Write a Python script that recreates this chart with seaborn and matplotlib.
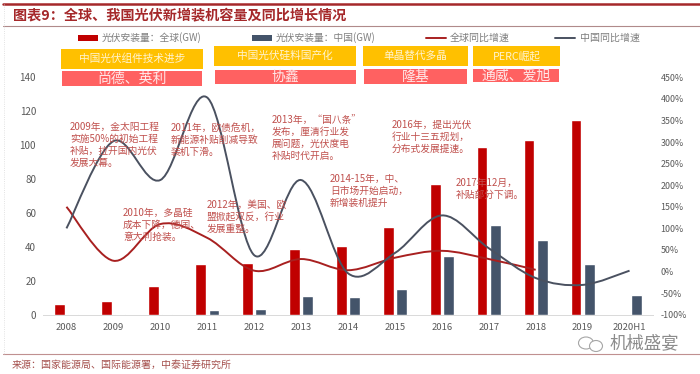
import matplotlib
matplotlib.use('Agg')
import matplotlib.pyplot as plt
from matplotlib.lines import Line2D
from matplotlib.patches import PathPatch, Rectangle, Ellipse
from matplotlib.path import Path
import pandas as pd
import seaborn as sns

years = ['2008', '2009', '2010', '2011', '2012', '2013', '2014', '2015',
         '2016', '2017', '2018', '2019', '2020H1']
# 装机量 (GW)
install_world = [6.5, 8, 17, 30, 30.5, 39, 40.5, 52, 77, 99, 103, 115, None]
install_china = [0.4, 0.5, 0.5, 2.5, 3.5, 10.9, 10.5, 15.2, 34.5, 53, 44.3, 30.1, 11.5]
# 同比增速 (%)
growth_world = [150, 25, 110, 78, 2, 29, 3, 32, 48, 29, 4]
growth_china = [100, 302, 212, 403, 38, 212, -4, 43, 130, 54, -15, -31, 2]

WIDTH, HEIGHT = 700, 374
RED = '#C00000'
NAVY = '#44546A'
LINE_RED = '#A82020'
LINE_NAVY = '#4A5160'
TEXT_RED = '#C0504D'
GRAY = '#7F7F7F'
# 全角标点
COMMA = '\uff0c'
COLON = '\uff1a'

sns.set_style('white')
plt.rcParams['font.family'] = ['Noto Sans CJK SC', 'DejaVu Sans']


# 像素坐标 -> figure 坐标
def fx(x):
    return x / WIDTH


def fy(y):
    return 1 - y / HEIGHT


def put_text(x, y, s, size=6, color=TEXT_RED, **kw):
    kw.setdefault('va', 'center')
    s = s.replace(',', COMMA).replace(':', COLON)
    fig.text(fx(x), fy(y), s, fontsize=size, color=color, **kw)


def put_rect(x0, y0, x1, y1, color, zorder=1):
    fig.add_artist(Rectangle((fx(x0), fy(y1)), (x1 - x0) / WIDTH, (y1 - y0) / HEIGHT,
                             transform=fig.transFigure, facecolor=color,
                             edgecolor='none', zorder=zorder))


def put_line(x0, y0, x1, y1, color, lw=1.0, **kw):
    fig.add_artist(Line2D([fx(x0), fx(x1)], [fy(y0), fy(y1)], color=color, lw=lw, **kw))


# Excel 的平滑线: 用贝塞尔曲线穿过每个数据点
def smooth_path(values):
    pts = list(enumerate(values))
    verts = [pts[0]]
    codes = [Path.MOVETO]
    for i in range(len(pts) - 1):
        p0 = pts[max(i - 1, 0)]
        p1 = pts[i]
        p2 = pts[i + 1]
        p3 = pts[min(i + 2, len(pts) - 1)]
        c1 = (p1[0] + (p2[0] - p0[0]) / 6, p1[1] + (p2[1] - p0[1]) / 6)
        c2 = (p2[0] - (p3[0] - p1[0]) / 6, p2[1] - (p3[1] - p1[1]) / 6)
        verts += [c1, c2, p2]
        codes += [Path.CURVE4] * 3
    return Path(verts, codes)


df = pd.DataFrame({'year': years, '全球': install_world, '中国': install_china})
df_long = df.melt(id_vars='year', var_name='地区', value_name='GW')

fig = plt.figure(figsize=(7, 3.74), dpi=100)
ax = fig.add_axes([fx(43), fy(314.7), (653 - 43) / WIDTH, (314.7 - 77.3) / HEIGHT])

sns.barplot(data=df_long, x='year', y='GW', hue='地区', order=years,
            palette={'全球': RED, '中国': NAVY}, width=0.57, gap=0.2,
            saturation=1, legend=False, ax=ax)
ax.set_xlim(-0.5, 12.5)
ax.set_ylim(0, 140)
ax.set_xlabel('')
ax.set_ylabel('')
ax.set_yticks(range(0, 141, 20))
ax.set_xticks(range(len(years)))
ax.set_xticklabels(years)
ax.set_xticks([i - 0.5 for i in range(len(years) + 1)], minor=True)
ax.tick_params(axis='x', which='major', length=0, pad=6, labelsize=6.8, labelcolor='#595959')
ax.tick_params(axis='x', which='minor', length=3, width=0.7, color='#D9D9D9')
ax.tick_params(axis='y', length=0, pad=5, labelsize=7, labelcolor='#595959')
for name, spine in ax.spines.items():
    spine.set_visible(name == 'bottom')
ax.spines['bottom'].set_color('#D9D9D9')
ax.spines['bottom'].set_linewidth(0.7)

ax2 = ax.twinx()
ax2.set_ylim(-100, 450)
ax2.set_yticks(range(-100, 451, 50))
ax2.set_yticklabels([f'{v}%' for v in range(-100, 451, 50)])
ax2.tick_params(axis='y', length=0, pad=5.5, labelsize=6.4, labelcolor='#595959')
for spine in ax2.spines.values():
    spine.set_visible(False)
ax2.add_patch(PathPatch(smooth_path(growth_world), fc='none', ec=LINE_RED, lw=1.4, clip_on=False))
ax2.add_patch(PathPatch(smooth_path(growth_china), fc='none', ec=LINE_NAVY, lw=1.4, clip_on=False))

# 页眉页脚
put_line(3, 4, 700, 4, '#A5282A', lw=1.8)
put_line(3, 25.5, 700, 25.5, '#B08A8A', lw=0.8)
put_line(3, 354, 700, 354, '#C09090', lw=0.8)
put_line(3.5, 4, 3.5, 354, '#D9D9D9', lw=0.6, ls=':')
put_text(13, 15, '图表9:全球、我国光伏新增装机容量及同比增长情况', size=10.2,
         color='#A5282A', fontweight='bold')
put_text(12, 365, '来源:国家能源局、国际能源署,中泰证券研究所', size=7.2, color='#A5504D')

# 图例
put_rect(78, 35, 98, 41, RED)
put_text(102, 38, '光伏安装量:全球(GW)', size=7, color=GRAY)
put_rect(252, 35, 272, 41, NAVY)
put_text(276, 38, '光伏安装量:中国(GW)', size=7, color=GRAY)
put_line(426, 38, 446, 38, LINE_RED, lw=1.4)
put_text(450, 38, '全球同比增速', size=7.2, color=GRAY)
put_line(555, 38, 575, 38, LINE_NAVY, lw=1.4)
put_text(580, 38, '中国同比增速', size=7.2, color=GRAY)

# 上方色块
stages = [
    (61, 203, 49, 69, 62, 202, 71, 86, '中国光伏组件技术进步', '尚德、英利'),
    (214, 356, 46, 66, 215, 356, 70, 84, '中国光伏硅料国产化', '协鑫'),
    (363, 468, 46, 66, 364, 467, 69, 84, '单晶替代多晶', '隆基'),
    (473, 560, 46, 66, 473, 559, 69, 82, 'PERC崛起', '通威、爱旭'),
]
for x0, x1, y0, y1, rx0, rx1, ry0, ry1, top, bottom in stages:
    put_rect(x0, y0, x1, y1, '#FFC000')
    put_rect(rx0, ry0, rx1, ry1, '#FF6161')
    put_text((x0 + x1) / 2, (y0 + y1) / 2, top, size=7.7, color='#FFF4D0', ha='center')
    put_text((rx0 + rx1) / 2, (ry0 + ry1) / 2, bottom, size=10, color='#FFE8E8', ha='center')

# 文字说明
notes = [
    (70, 127, ['2009年,金太阳工程', '实施50%的初始工程', '补贴,拉开国内光伏', '发展大幕。']),
    (171, 128, ['2011年,欧债危机,', '新能源补贴削减导致', '装机下滑。']),
    (272, 120, ['2013年,“国八条”', '发布,厘清行业发', '展问题,光伏度电', '补贴时代开启。']),
    (330, 179, ['2014-15年,中、', '日市场开始启动,', '新增装机提升']),
    (392, 125, ['2016年,提出光伏', '行业十三五规划,', '分布式发展提速。']),
    (456, 183, ['2017年12月,', '补贴部分下调。']),
    (123, 213, ['2010年,多晶硅', '成本下降,德国、', '意大利抢装。']),
    (207, 205, ['2012年,美国、欧', '盟掀起双反,行业', '发展重整。']),
]
for x, y, lines in notes:
    for i, line in enumerate(lines):
        put_text(x, y + i * 12, line, size=7)

# 水印
fig.add_artist(Ellipse((fx(586), fy(343)), 15 / WIDTH, 12 / HEIGHT, transform=fig.transFigure,
                       fc='white', ec='#A6A6A6', lw=0.8))
fig.add_artist(Ellipse((fx(596), fy(346)), 13 / WIDTH, 11 / HEIGHT, transform=fig.transFigure,
                       fc='white', ec='#A6A6A6', lw=0.8))
put_text(610, 343, '机械盛宴', size=12.5, color='#8C8C8C')

fig.savefig('out.png', dpi=100, facecolor='white')
